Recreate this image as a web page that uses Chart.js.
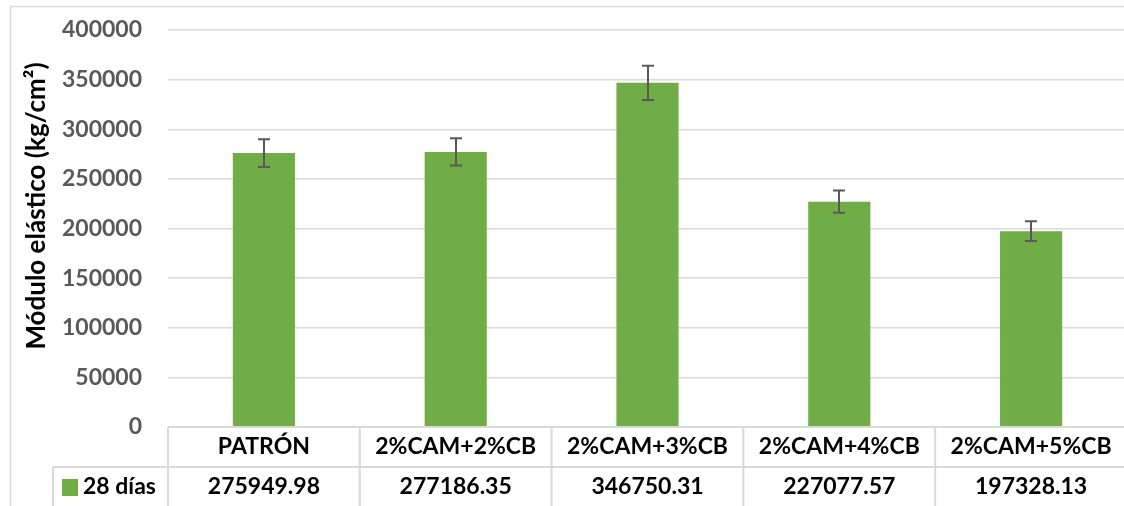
<!DOCTYPE html>
<html>
<head>
<meta charset="utf-8">
<script src="https://cdn.jsdelivr.net/npm/chart.js@4/dist/chart.umd.min.js"></script>
<style>
html,body{margin:0;padding:0;background:#fff;overflow:hidden;}
#wrap{position:absolute;left:0;top:0;width:1127px;height:506px;}
</style>
</head>
<body>
<div id="wrap"><canvas id="c"></canvas></div>
<script>
const categories = ['PATRÓN', '2%CAM+2%CB', '2%CAM+3%CB', '2%CAM+4%CB', '2%CAM+5%CB'];
const values = [275949.98, 277186.35, 346750.31, 227077.57, 197328.13];
const errors = [14000, 13800, 17300, 11300, 9900];
const seriesName = '28 días';
const yMin = 0, yMax = 400000, yStep = 50000;
const yTitle = 'Módulo elástico (kg/cm²)';

const FONT = 'Lato, "Open Sans", sans-serif';
const GRID = '#d9d9d9';
const BAR = '#70ad47';

const tablePlugin = {
  id: 'tablePlugin',
  beforeDraw(chart) {
    const ctx = chart.ctx;
    ctx.save();
    ctx.strokeStyle = GRID;
    ctx.lineWidth = 1.5;
    ctx.beginPath();
    ctx.moveTo(10.5, chart.height);
    ctx.lineTo(10.5, 6.5);
    ctx.lineTo(chart.width, 6.5);
    ctx.stroke();
    ctx.restore();
  },
  afterDatasetsDraw(chart) {
    const ctx = chart.ctx;
    const x = chart.scales.x, y = chart.scales.y;
    ctx.save();
    ctx.strokeStyle = '#595959';
    ctx.lineWidth = 2;
    values.forEach((v, i) => {
      const cx = Math.round(x.getPixelForValue(i));
      const t = y.getPixelForValue(v + errors[i]);
      const b = y.getPixelForValue(v - errors[i]);
      ctx.beginPath();
      ctx.moveTo(cx, t); ctx.lineTo(cx, b);
      ctx.moveTo(cx - 6, t); ctx.lineTo(cx + 6, t);
      ctx.moveTo(cx - 6, b); ctx.lineTo(cx + 6, b);
      ctx.stroke();
    });
    ctx.restore();
  },
  afterDraw(chart) {
    const ctx = chart.ctx;
    const x = chart.scales.x;
    const area = chart.chartArea;
    const top = area.bottom;
    const mid = top + 40;
    const bottom = chart.height;
    const colW = (area.right - area.left) / categories.length;
    ctx.save();
    ctx.strokeStyle = GRID;
    ctx.lineWidth = 2;
    ctx.beginPath();
    ctx.moveTo(area.left, top); ctx.lineTo(chart.width, top);
    ctx.moveTo(53, mid); ctx.lineTo(chart.width, mid);
    ctx.moveTo(53, mid); ctx.lineTo(53, bottom);
    for (let i = 0; i <= categories.length; i++) {
      const lx = area.left + i * colW;
      ctx.moveTo(lx, top); ctx.lineTo(lx, bottom);
    }
    ctx.stroke();

    ctx.fillStyle = '#000';
    ctx.font = 'bold 23px ' + FONT;
    ctx.textAlign = 'center';
    ctx.textBaseline = 'middle';
    categories.forEach((c, i) => {
      const cx = x.getPixelForValue(i);
      ctx.fillText(c, cx, top + 20);
      ctx.fillText(values[i].toFixed(2), cx, mid + 20);
    });
    ctx.fillStyle = BAR;
    ctx.fillRect(62, mid + 12, 16, 17);
    ctx.fillStyle = '#000';
    ctx.textAlign = 'left';
    ctx.fillText(seriesName, 83, mid + 20);

    // y axis title
    ctx.translate(37, 206);
    ctx.rotate(-Math.PI / 2);
    ctx.textAlign = 'center';
    ctx.font = 'bold 26px ' + FONT;
    ctx.fillStyle = '#000';
    ctx.fillText(yTitle, 0, 0);
    ctx.restore();
  }
};

new Chart(document.getElementById('c'), {
  type: 'bar',
  data: {
    labels: categories,
    datasets: [{
      label: seriesName,
      data: values,
      backgroundColor: BAR,
      borderWidth: 0,
      categoryPercentage: 1,
      barPercentage: 0.324
    }]
  },
  options: {
    responsive: true,
    maintainAspectRatio: false,
    animation: false,
    devicePixelRatio: 1,
    layout: { padding: { top: 30, left: 0, right: 0, bottom: 0 } },
    plugins: { legend: { display: false }, tooltip: { enabled: false } },
    scales: {
      x: {
        type: 'category',
        offset: true,
        grid: { display: false },
        border: { display: false },
        ticks: { display: false },
        afterFit(scale) { scale.height = 79; }
      },
      y: {
        min: yMin,
        max: yMax,
        border: { display: false },
        grid: { color: GRID, lineWidth: 1.5, drawTicks: true, tickLength: 26, tickColor: 'rgba(0,0,0,0)' },
        ticks: {
          stepSize: yStep,
          padding: 0,
          color: '#595959',
          font: { family: FONT, size: 23, weight: 'bold' },
          callback: (v) => String(v)
        },
        afterFit(scale) { scale.width = 168; }
      }
    }
  },
  plugins: [tablePlugin]
});
</script>
</body>
</html>
